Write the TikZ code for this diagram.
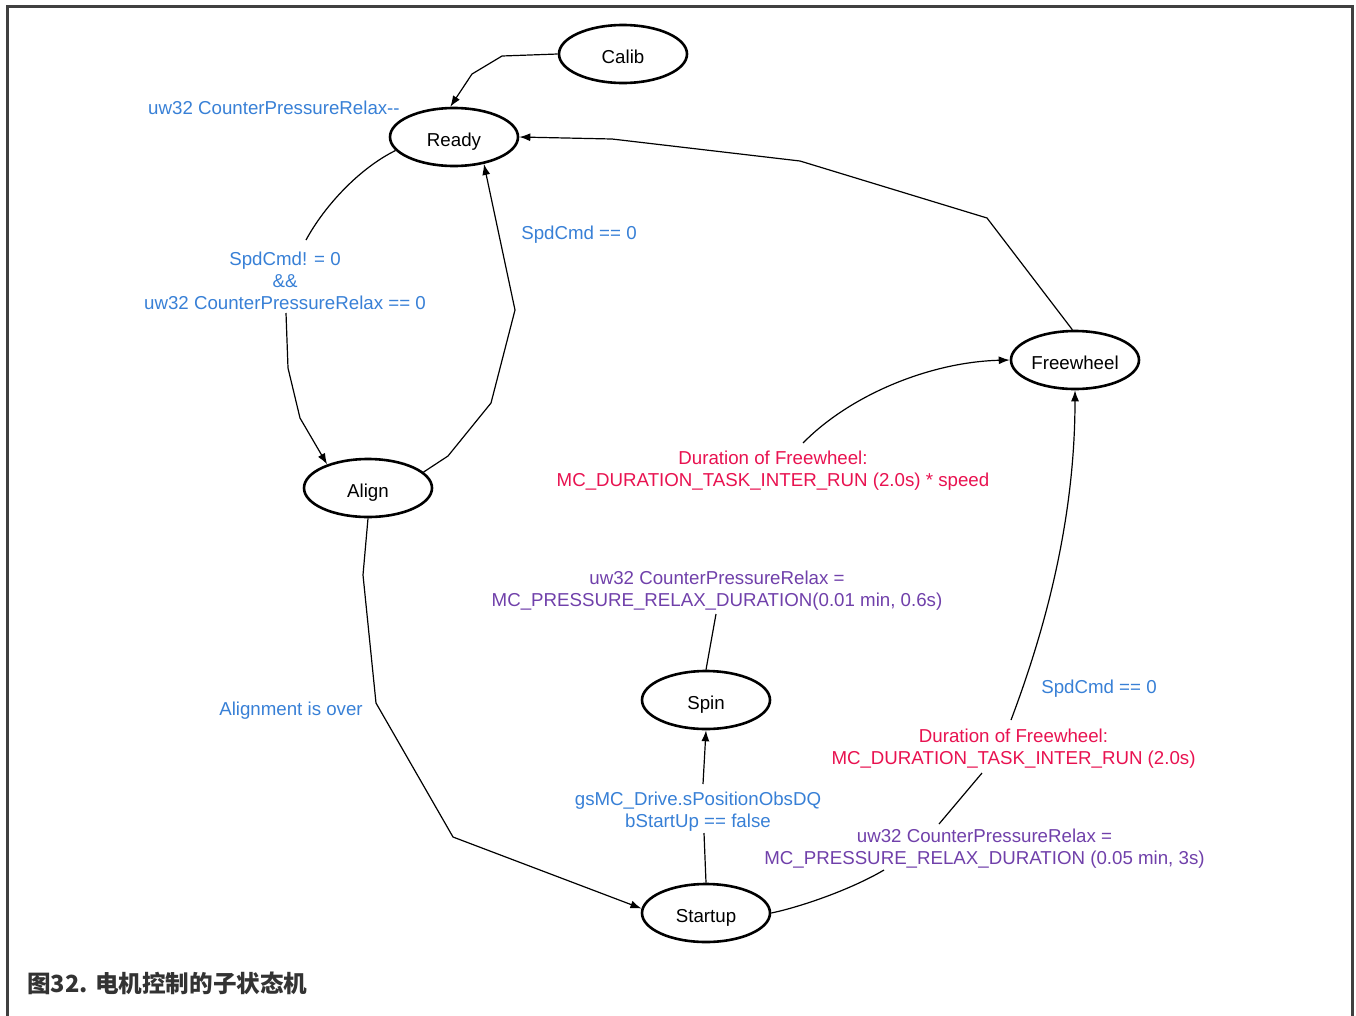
\documentclass[tikz,border=0pt]{standalone}
\usepackage{fontspec}
\setmainfont{Liberation Sans}
\newfontfamily\cjk{Noto Sans CJK SC}
\usetikzlibrary{shapes.geometric,arrows.meta}
\definecolor{lblue}{RGB}{56,128,214}
\definecolor{lred}{RGB}{232,18,80}
\definecolor{lpurple}{RGB}{112,64,170}
\definecolor{framegray}{RGB}{64,64,64}
\definecolor{capgray}{RGB}{51,51,51}
\begin{document}
\begin{tikzpicture}[x=1pt,y=-1pt,
  state/.style={ellipse,draw=black,line width=2.6pt,minimum width=128pt,minimum height=58pt,inner sep=0pt,text height=18pt,text depth=0pt,font=\fontsize{18.7}{22}\selectfont},
  lbl/.style={align=center,inner sep=0pt,yshift=-3pt,font=\fontsize{18.7}{22}\selectfont},
  conn/.style={line width=1.2pt,draw=black},
  arr/.style={conn,-{Latex[length=11pt,width=8pt]}}]
\useasboundingbox (0,0) rectangle (1356,1015);
\draw[line width=3pt,framegray] (7,1016) -- (7,6) -- (1352,6) -- (1352,1016);

% states
\node[state] (calib) at (623,54) {Calib};
\node[state] (ready) at (454,137) {Ready};
\node[state] (align) at (368,488) {Align};
\node[state] (freewheel) at (1075,360) {Freewheel};
\node[state] (spin) at (706,700) {Spin};
\node[state] (startup) at (706,913) {Startup};

% labels
\node[lbl,lblue] (lrelax) at (274,105) {uw32 CounterPressureRelax-{}-};
\node[lbl,lblue] (lra) at (285,278) {SpdCmd! = 0\\\&\&\\uw32 CounterPressureRelax == 0};
\node[lbl,lblue] (lar) at (579,232) {SpdCmd == 0};
\node[lbl,lred] (lred1) at (773,468) {Duration of Freewheel:\\MC\_DURATION\_TASK\_INTER\_RUN (2.0s) * speed};
\node[lbl,lpurple] (lpur1) at (717,587.5) {uw32 CounterPressureRelax =\\MC\_PRESSURE\_RELAX\_DURATION(0.01 min, 0.6s)};
\node[lbl,lblue] (lalign) at (291,708) {Alignment is over};
\node[lbl,lblue] (lss) at (698,808.5) {gsMC\_Drive.sPositionObsDQ\\bStartUp == false};
\node[lbl,lblue] (lspd2) at (1099,686) {SpdCmd == 0};
\node[lbl,lred] (lred2) at (1013.5,746) {Duration of Freewheel:\\MC\_DURATION\_TASK\_INTER\_RUN (2.0s)};
\node[lbl,lpurple] (lpur2) at (984.5,846) {uw32 CounterPressureRelax =\\MC\_PRESSURE\_RELAX\_DURATION (0.05 min, 3s)};

% connector free ends next to labels
\coordinate (ra1) at (306,240);
\coordinate (ra2) at (286,313);
\coordinate (sp1) at (716,614);
\coordinate (rf1) at (803,443);
\coordinate (ss1) at (704,833);
\coordinate (ss2) at (703,784);
\coordinate (sf1) at (884,870);
\coordinate (sf2) at (939,824);
\coordinate (sf3) at (982,773);
\coordinate (sf4) at (1011,720);

% connectors
\draw[arr] (calib.west) -- (502,56) -- (472,74) -- (ready.97);
\draw[conn] (ready.193) .. controls (360,168) and (325,205) .. (ra1);
\draw[arr] (ra2) -- (288,368) -- (300,418) -- (align.150);
\draw[arr] (align.16) -- (448,456) -- (491,403) -- (515,310) -- (ready.318);
\draw[arr] (freewheel.95) -- (987,218) -- (800,161) -- (612,139) -- (ready.east);
\draw[conn] (spin.north) -- (sp1);
\draw[arr] (rf1) .. controls (850,395) and (930,362) .. (freewheel.west);
\draw[arr] (align.south) -- (363,575) -- (376,703) -- (453,837) -- (startup.176);
\draw[conn] (startup.north) -- (ss1);
\draw[arr] (ss2) -- (spin.south);
\draw[conn] (startup.east) .. controls (800,907) and (850,890) .. (sf1);
\draw[conn] (sf2) -- (sf3);
\draw[arr] (sf4) .. controls (1045,630) and (1075,520) .. (freewheel.south);

% caption
\node[anchor=west,inner sep=0pt,capgray,font=\cjk\bfseries\fontsize{23.6}{26}\selectfont] (cap) at (27,983) {图32. 电机控制的子状态机};
\end{tikzpicture}
\end{document}
